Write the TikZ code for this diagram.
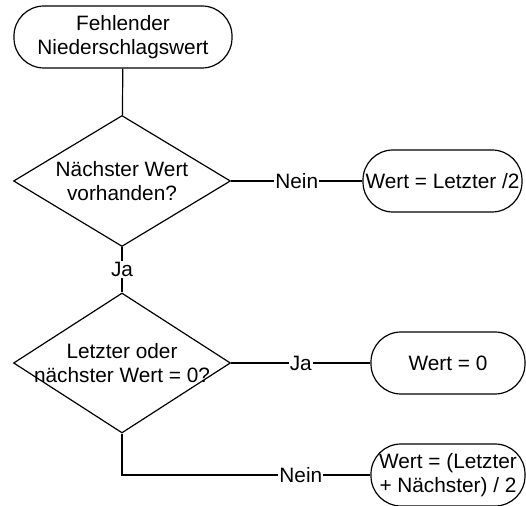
\documentclass[tikz,border=0pt]{standalone}
\usepackage{fontspec}
\setmainfont{Liberation Sans}
\usetikzlibrary{shapes.geometric}

\begin{document}
\begin{tikzpicture}[x=0.5pt, y=-0.5pt, line width=0.6pt,
    every node/.style={font=\fontsize{10.4}{11.8}\selectfont, align=center},
    term/.style={draw, rounded corners=15pt, minimum height=31pt, inner sep=1pt},
    decision/.style={draw, diamond, minimum width=108.5pt, inner sep=0pt},
    answer/.style={fill=white, inner sep=0.5pt}]
    \useasboundingbox (0,0) rectangle (526,506);
    \node[term, minimum width=109pt] (F) at (123,37) {Fehlender\\Niederschlagswert};
    \node[decision, minimum height=65.5pt, label={center:Nächster Wert\\vorhanden?}] (D1) at (122,181) {};
    \node[decision, minimum height=70pt, label={center:Letzter oder\\nächster Wert = 0?}] (D2) at (122,363) {};
    \node[term, minimum width=79.5pt] (W1) at (442.5,181) {Wert = Letzter /2};
    \node[term, minimum width=77pt] (W0) at (448,363) {Wert = 0};
    \node[term, minimum width=77pt] (W2) at (448,475) {Wert = (Letzter\\+ Nächster) / 2};
    \draw (F) -- (D1);
    \draw (D1) -- node[answer] {Ja} (D2);
    \draw (D1) -- node[answer] {Nein} (W1);
    \draw (D2) -- node[answer] {Ja} (W0);
    \draw (D2) |- node[answer, pos=0.86] {Nein} (W2);
\end{tikzpicture}
\end{document}
